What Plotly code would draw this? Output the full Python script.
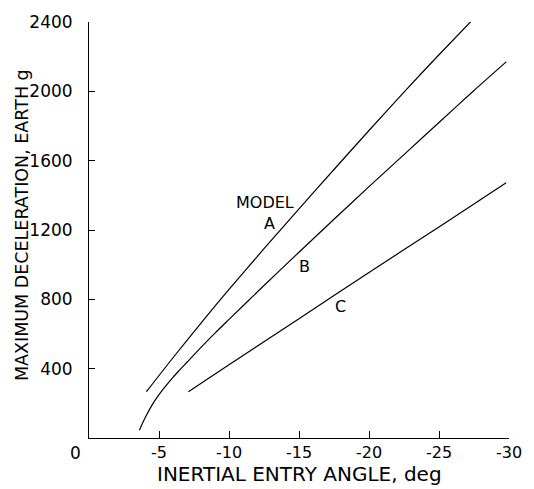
import plotly.graph_objects as go

# Model A
a_angle = [-4.1, -6, -8, -10, -12.5, -15, -17.5, -20, -22.5, -25, -27.4]
a_decel = [267, 463, 663, 857, 1092, 1322, 1549, 1774, 1996, 2211, 2413]
# Model B
b_angle = [-3.6, -4.0, -4.5, -5.0, -5.5, -6.0, -6.5, -7.0, -8.0, -9.0, -10.0,
           -12.5, -15, -17.5, -20, -22.5, -25, -27.5, -29.8]
b_decel = [45, 115, 190, 250, 302, 350, 394, 437, 523, 605, 684,
           880, 1072, 1262, 1450, 1635, 1820, 2005, 2170]
# Model C
c_angle = [-7.1, -10, -15, -20, -25, -29.8]
c_decel = [267, 423, 688, 955, 1218, 1473]

x_ticks = [-5, -10, -15, -20, -25, -30]
x_ticktext = ["-5", "-10", "-15", "-20", "-25", "-30"]
y_ticks = [400, 800, 1200, 1600, 2000, 2400]
y_ticktext = ["400", "800", "1200", "1600", "2000", "2400"]

FONT = "DejaVu Sans"
line = dict(color="black", width=1.2, shape="spline", smoothing=0.8)

fig = go.Figure()
for xs, ys in [(a_angle, a_decel), (b_angle, b_decel), (c_angle, c_decel)]:
    fig.add_trace(go.Scatter(x=xs, y=ys, mode="lines", line=line, showlegend=False,
                             hoverinfo="skip"))

fig.update_layout(
    width=534, height=489,
    margin=dict(l=89, r=19, t=16, b=51),
    paper_bgcolor="white", plot_bgcolor="white",
    font=dict(family=FONT, size=17, color="black"),
    xaxis=dict(range=[0, -30], tickvals=x_ticks, ticktext=x_ticktext,
               ticks="inside", ticklen=7, tickwidth=1, tickcolor="black",
               showline=True, linecolor="black", linewidth=1,
               showgrid=False, zeroline=False, tickfont=dict(size=16)),
    yaxis=dict(range=[0, 2400], tickvals=y_ticks, ticktext=y_ticktext,
               ticks="inside", ticklen=6, tickwidth=1, tickcolor="black",
               showline=True, linecolor="black", linewidth=1,
               showgrid=False, zeroline=False, tickfont=dict(size=17),
               ticklabelstandoff=12),
)

annots = [
    dict(text="MODEL", x=-12.54, y=1358),
    dict(text="A", x=-12.9, y=1240),
    dict(text="B", x=-15.4, y=988),
    dict(text="C", x=-17.95, y=757),
]
for a in annots:
    fig.add_annotation(text=a["text"], x=a["x"], y=a["y"], xref="x", yref="y",
                       xanchor="center", yanchor="middle", showarrow=False,
                       font=dict(family=FONT, size=16, color="black"))

# origin label
fig.add_annotation(text="0", x=(75 - 89) / 426, y=(438 - 453) / 422, xref="paper", yref="paper",
                   xanchor="center", yanchor="middle", showarrow=False,
                   font=dict(family=FONT, size=17, color="black"))
# axis titles
fig.add_annotation(text="INERTIAL ENTRY ANGLE, deg", x=0.5, y=(438 - 475) / 422,
                   xref="paper", yref="paper", xanchor="center", yanchor="middle",
                   showarrow=False, font=dict(family=FONT, size=20, color="black"))
fig.add_annotation(text="MAXIMUM DECELERATION, EARTH g", x=(21 - 89) / 426, y=(438 - 222) / 422,
                   xref="paper", yref="paper", xanchor="center", yanchor="middle",
                   showarrow=False, textangle=-90,
                   font=dict(family=FONT, size=17.5, color="black"))

fig.write_html("out.html")
